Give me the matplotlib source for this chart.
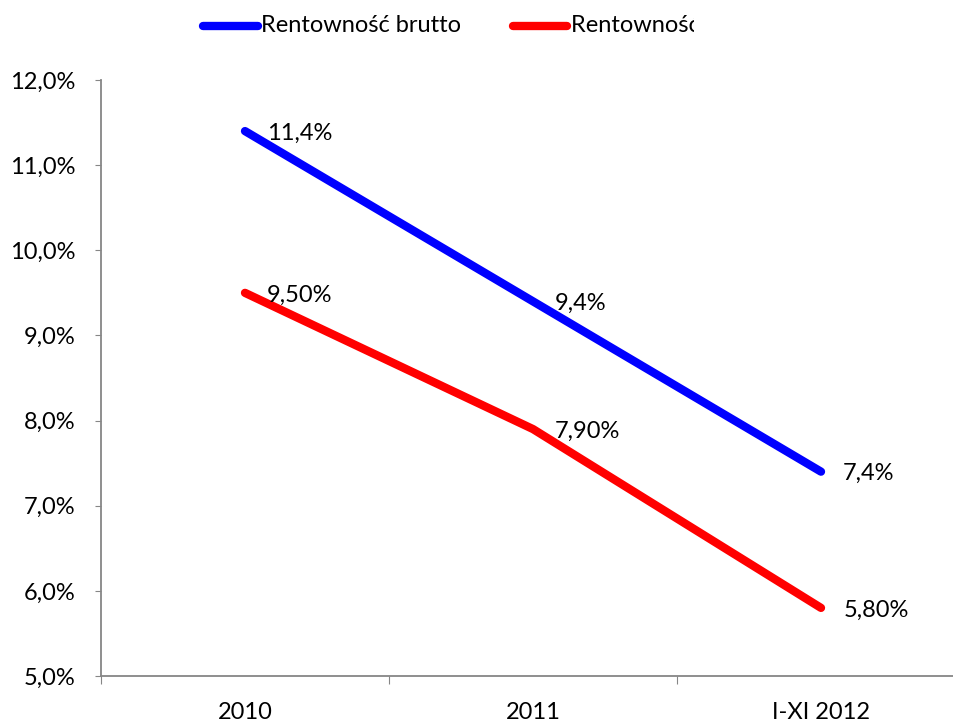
import matplotlib
matplotlib.use("Agg")
import matplotlib.pyplot as plt
from matplotlib.transforms import Bbox
import numpy as np

plt.rcParams['font.family'] = ['Lato', 'DejaVu Sans']

categories = ["2010", "2011", "I-XI 2012"]
brutto = [11.4, 9.4, 7.4]
netto = [9.5, 7.9, 5.8]
brutto_labels = ["11,4%", "9,4%", "7,4%"]
netto_labels = ["9,50%", "7,90%", "5,80%"]
series_names = ["Rentowność brutto", "Rentowność netto"]
yticks = [5, 6, 7, 8, 9, 10, 11, 12]
ytick_labels = ["5,0%", "6,0%", "7,0%", "8,0%", "9,0%", "10,0%", "11,0%", "12,0%"]

FS = 17
W, H = 954, 722
fig = plt.figure(figsize=(W / 100, H / 100), dpi=100)
ax = fig.add_axes([101 / W, (H - 676) / H, (965 - 101) / W, (676 - 80) / H])

x = np.arange(len(categories))
ax.plot(x, brutto, color="#0000FF", lw=6, solid_capstyle="round", solid_joinstyle="round", clip_on=False)
ax.plot(x, netto, color="#FF0000", lw=6, solid_capstyle="round", solid_joinstyle="round", clip_on=False)

for xi, v, t in zip(x, brutto, brutto_labels):
    ax.annotate(t, (xi, v), xytext=(16, -1.5), textcoords="offset points", ha="left", va="center", fontsize=FS)
for xi, v, t in zip(x, netto, netto_labels):
    ax.annotate(t, (xi, v), xytext=(16, -1.5), textcoords="offset points", ha="left", va="center", fontsize=FS)

ax.set_xlim(-0.5, 2.5)
ax.set_ylim(5, 12)
ax.set_yticks(yticks)
ax.set_yticklabels(ytick_labels, fontsize=FS)
ax.set_xticks([-0.5, 0.5, 1.5, 2.5])
ax.set_xticklabels([])
ax.set_xticks(x, minor=True)
ax.set_xticklabels(categories, minor=True, fontsize=FS)
ax.tick_params(axis="x", which="major", length=6, color="#868686", direction="out")
ax.tick_params(axis="x", which="minor", length=0, pad=19)
ax.tick_params(axis="y", length=4.5, color="#868686", direction="out", pad=14)
for s in ["top", "right"]:
    ax.spines[s].set_visible(False)
for s in ["left", "bottom"]:
    ax.spines[s].set_color("#868686")
    ax.spines[s].set_linewidth(1.3)

# legend drawn manually
ly = 1 - 26 / H
fig.add_artist(plt.Line2D([203 / W, 258 / W], [ly, ly], color="#0000FF", lw=6, solid_capstyle="round"))
fig.add_artist(plt.Line2D([513 / W, 567 / W], [ly, ly], color="#FF0000", lw=6, solid_capstyle="round"))
fig.text(261 / W, ly, series_names[0], fontsize=FS, va="center", ha="left")
t2 = fig.text(571 / W, ly, series_names[1], fontsize=FS, va="center", ha="left")
t2.set_clip_box(Bbox.from_extents(0, 0, 694, H))
t2.set_clip_on(True)

fig.savefig("out.png", dpi=100)
